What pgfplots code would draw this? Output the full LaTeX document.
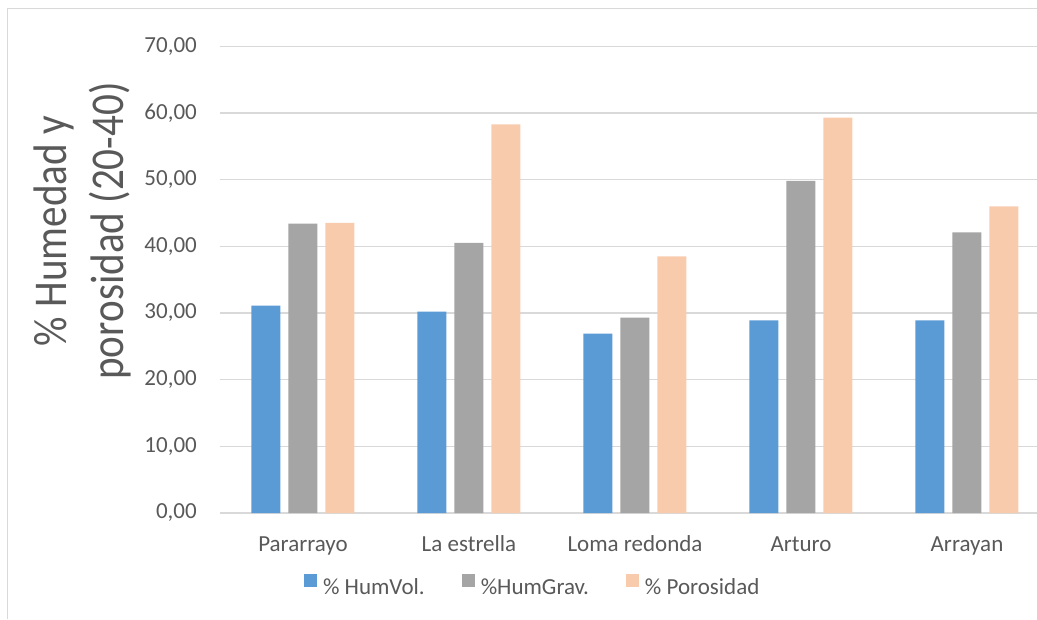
\documentclass[border=0pt]{standalone}
\usepackage{pgfplots}
\pgfplotsset{compat=1.18}
\usepackage{fontspec}
\setmainfont{Carlito}
\newfontfamily\ylabfont[FakeStretch=0.875]{Carlito}
\definecolor{cblue}{HTML}{5B9BD5}
\definecolor{cgray}{HTML}{A5A5A5}
\definecolor{cpeach}{HTML}{F8CBAD}
\definecolor{txt}{HTML}{595959}
\definecolor{gridc}{HTML}{D9D9D9}
\begin{document}
\begin{tikzpicture}
\useasboundingbox (0pt,0pt) rectangle (1037pt,619pt);
\draw[gridc, line width=1pt] (7pt,0pt) -- (7pt,610pt) -- (1037pt,610pt);
\begin{axis}[
  at={(220pt,106pt)}, anchor=south west,
  scale only axis, width=816.7pt, height=466.7pt,
  xmin=-0.5, xmax=4.42, ymin=0, ymax=70,
  enlargelimits=false,
  ybar=8pt, bar width=29pt,
  xtick=data,
  xticklabels={Pararrayo, La estrella, Loma redonda, Arturo, Arrayan},
  ytick={0,10,...,70},
  ymajorgrids, grid style={gridc, line width=1.3pt},
  axis line style={draw=none}, major tick length=0pt,
  /pgf/number format/fixed, /pgf/number format/fixed zerofill,
  /pgf/number format/precision=2, /pgf/number format/use comma,
  /pgf/number format/assume math mode=true,
  tick label style={font=\fontsize{23}{28}\selectfont, text=txt},
  yticklabel style={anchor=east, inner sep=0pt, xshift=-23pt},
  xticklabel style={anchor=north, inner sep=0pt, text height=17.25pt, text depth=5pt, yshift=-21.5pt},
  ylabel={\% Humedad y\\porosidad (20-40)},
  ylabel style={font=\ylabfont\fontsize{47}{57}\selectfont, text=txt, align=center,
    at={(axis description cs:-0.1690,0.6043)}, anchor=center},
  legend style={at={(axis description cs:0.1029,-0.1545)}, anchor=west,
    draw=none, fill=none, inner sep=0pt, outer sep=0pt,
    font=\fontsize{23}{28}\selectfont, text=txt,
    nodes={inner sep=0pt},
    /tikz/every odd column/.append style={column sep=6pt},
    /tikz/every even column/.append style={column sep=37pt}},
  legend columns=-1,
  legend image code/.code={\fill[#1] (0pt,1pt) rectangle (13pt,14pt);},
]
\addplot[fill=cblue, draw=none] coordinates {(0,31.1) (1,30.2) (2,26.9) (3,28.9) (4,28.9)};
\addplot[fill=cgray, draw=none] coordinates {(0,43.4) (1,40.5) (2,29.3) (3,49.8) (4,42.1)};
\addplot[fill=cpeach, draw=none] coordinates {(0,43.5) (1,58.3) (2,38.5) (3,59.3) (4,46.0)};
\legend{\% HumVol., \%HumGrav., \% Porosidad}
\end{axis}
\end{tikzpicture}
\end{document}
